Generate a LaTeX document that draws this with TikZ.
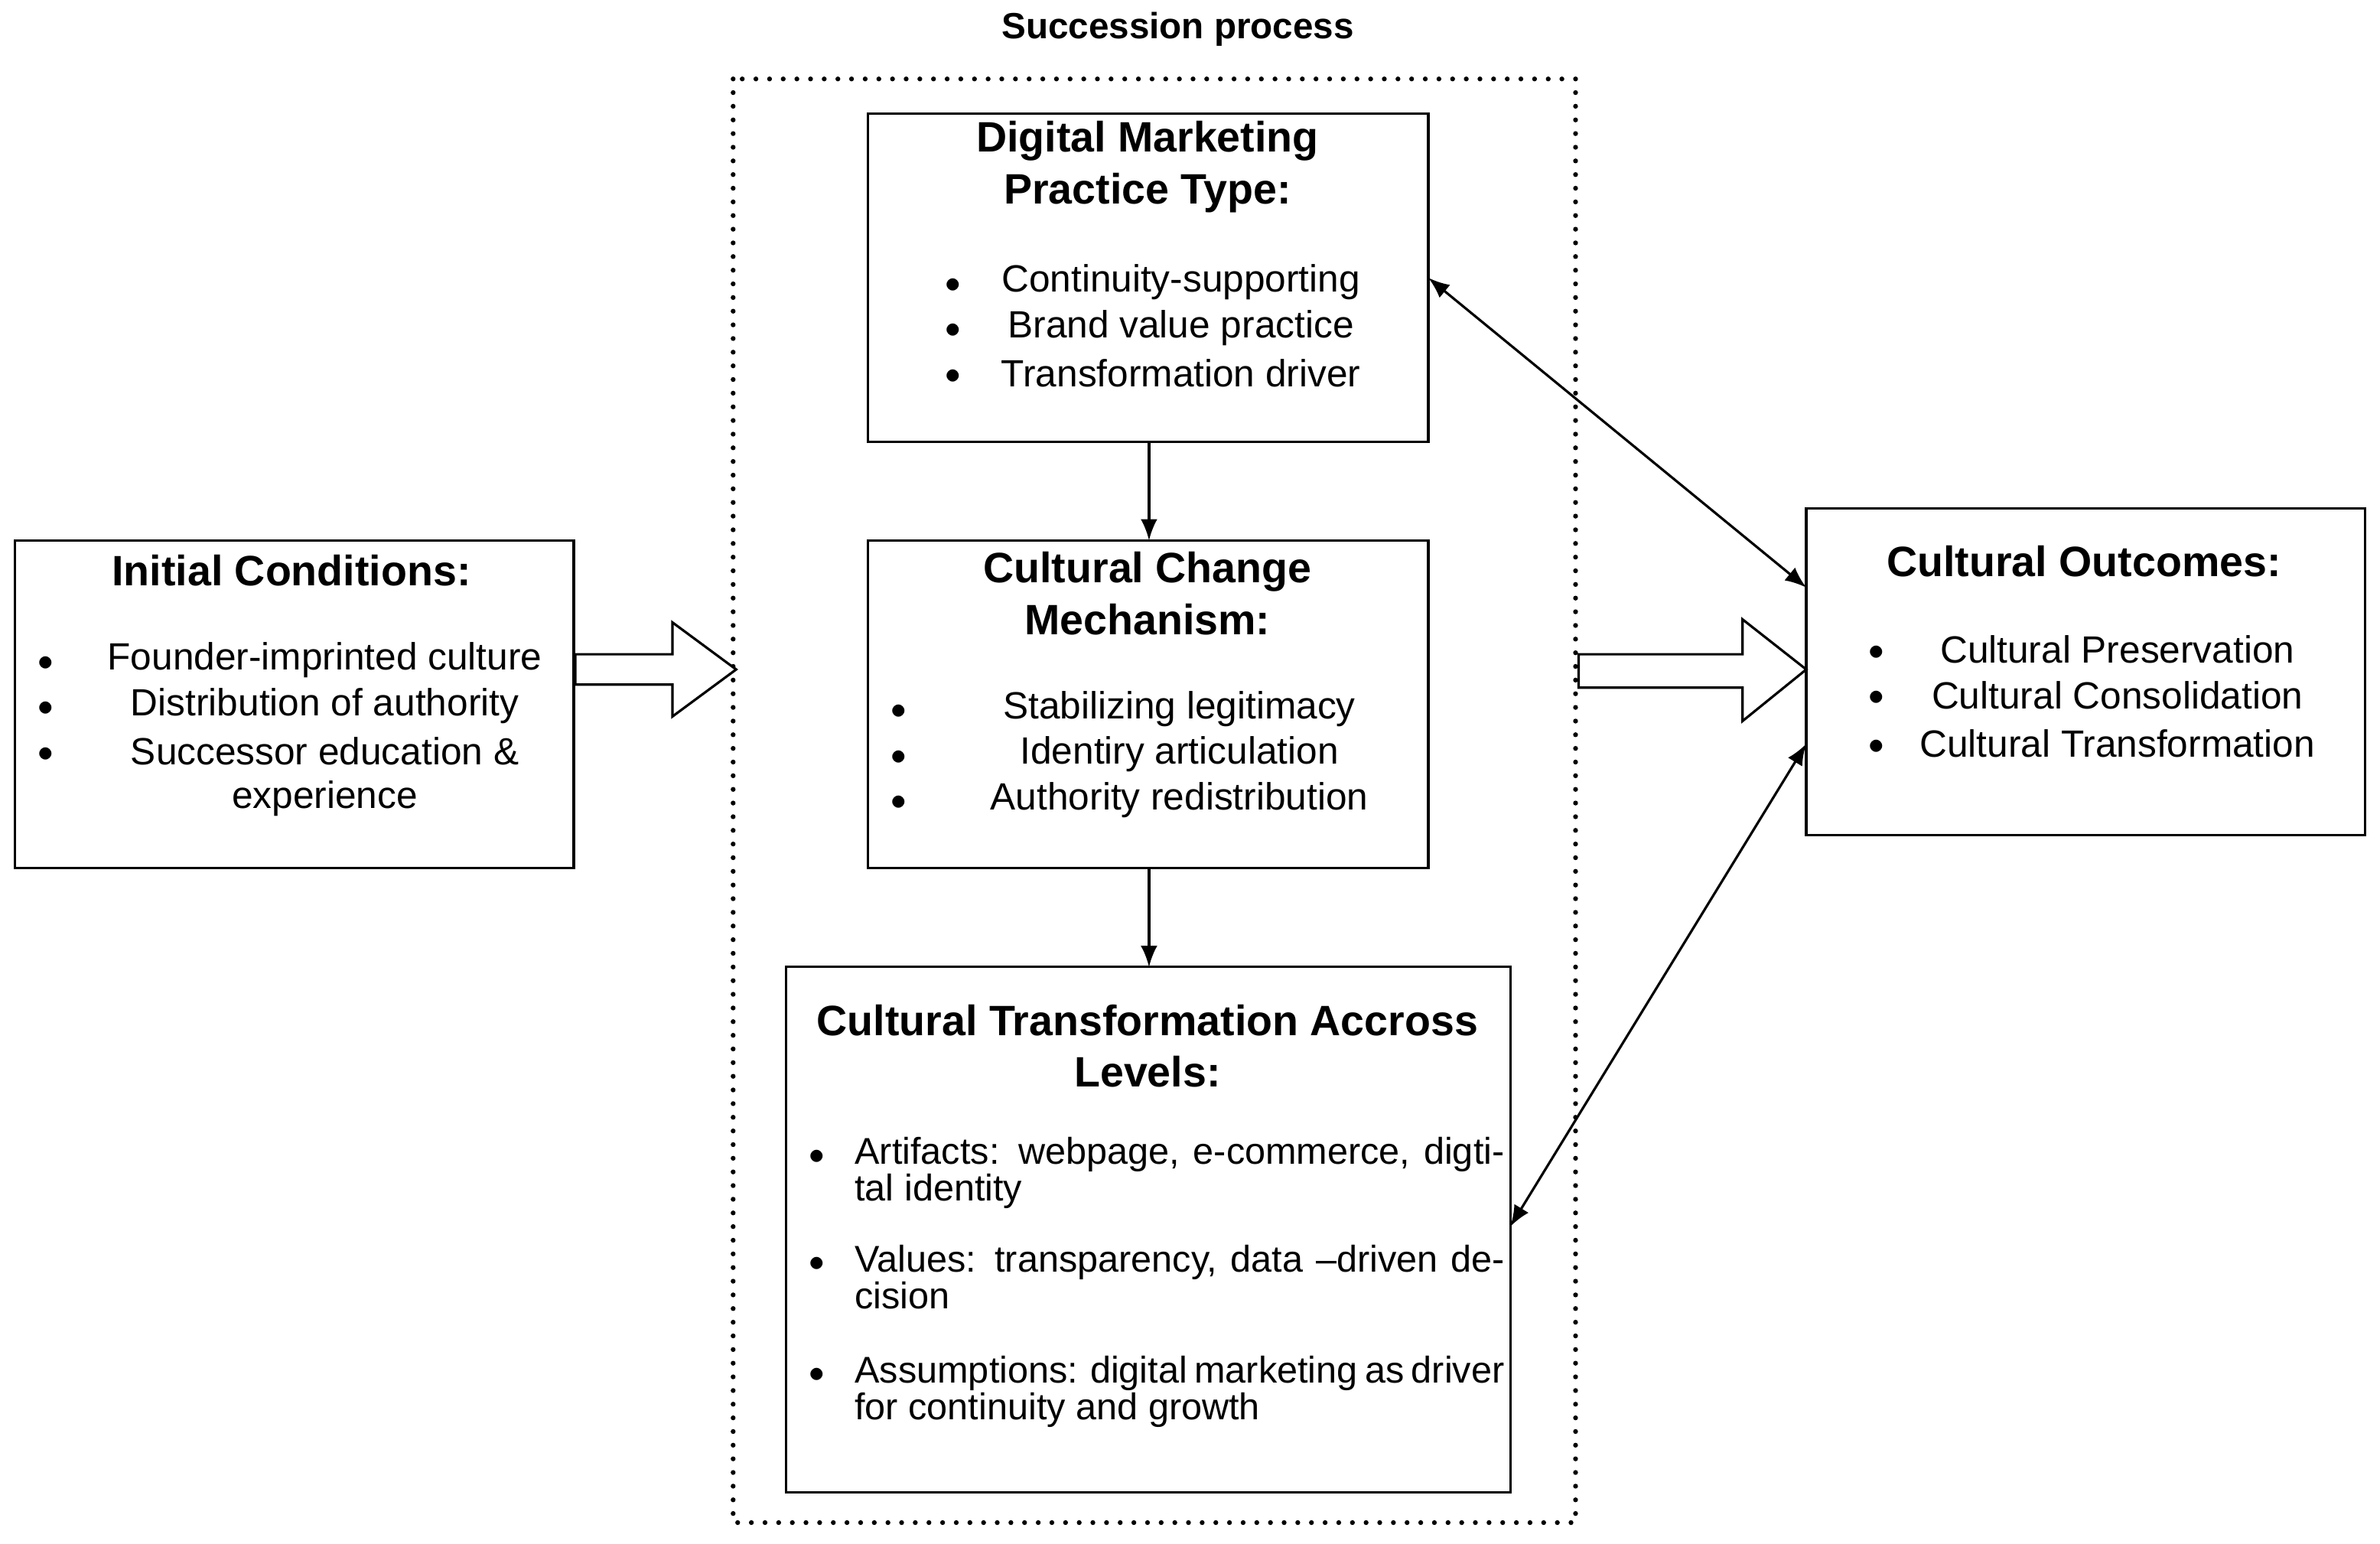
\documentclass[tikz,border=0pt]{standalone}
\usepackage{fontspec}
\setmainfont{Liberation Sans}
\usetikzlibrary{arrows.meta}
\begin{document}
\begin{tikzpicture}[x=1pt,y=-1pt,
 box/.style={draw,line width=1.6pt},
 ttl/.style={font=\fontsize{28}{34}\selectfont\bfseries,align=center},
 itm/.style={font=\fontsize{25}{30}\selectfont,anchor=center},
 bul/.style={font=\fontsize{22}{30}\selectfont},
 lst/.style={font=\fontsize{24.5}{24}\selectfont,text width=428pt,align=justify,anchor=north west,inner sep=0pt},
 tip/.style={Latex[length=14pt,width=11pt]},
 arr/.style={line width=1.6pt,-{Latex[length=14pt,width=11pt]}}]
\useasboundingbox (0,0) rectangle (1568,1017);
\node[font=\fontsize{24}{28}\selectfont\bfseries] (sp) at (776,19) {Succession process};
\draw[line width=3.2pt,line cap=round,dash pattern=on 0pt off 9pt] (483,52) rectangle (1038,1003);
% boxes
\draw[box] (572,75) rectangle (941,291); \coordinate (dmS) at (757,291); \coordinate (dmE) at (941,183);
\draw[box] (572,356) rectangle (941,572); \coordinate (ccN) at (757,356); \coordinate (ccS) at (757,572);
\draw[box] (518,637) rectangle (995,983); \coordinate (ctN) at (757,637); \coordinate (ctE) at (995,808);
\draw[box] (10,356) rectangle (378,572);
\draw[box] (1190,335) rectangle (1558,550); \coordinate (coA) at (1190,387); \coordinate (coB) at (1190,490);
% DM text
\node[ttl] (dmt) at (756,110) {Digital Marketing\\Practice Type:};
\foreach \y/\t [count=\i] in {186/Continuity-supporting,216/Brand value practice,246/Transformation driver}{
 \node[bul] (dmb\i) at (628,\y+2) {$\bullet$};
 \node[itm] (dmi\i) at (778,\y) {\t};}
% CCM text
\node[ttl] (cct) at (756,391) {Cultural Change\\Mechanism:};
\foreach \y/\t [count=\i] in {467/Stabilizing legitimacy,497/Identiry articulation,527/Authority redistribution}{
 \node[bul] (ccb\i) at (592,\y+2) {$\bullet$};
 \node[itm] (cci\i) at (777,\y) {\t};}
% Initial
\node[ttl] (int) at (192,376) {Initial Conditions:};
\foreach \y/\t [count=\i] in {435/Founder-imprinted culture,465/Distribution of authority,495/Successor education \&}{
 \node[bul] (inb\i) at (30,\y+2) {$\bullet$};
 \node[itm] (ini\i) at (214,\y) {\t};}
\node[itm] (ini4) at (214,526) {experience};
% Outcomes
\node[ttl] (cot) at (1373,370) {Cultural Outcomes:};
\foreach \y/\t [count=\i] in {428/Cultural Preservation,458/Cultural Consolidation,490/Cultural Transformation}{
 \node[bul] (cob\i) at (1236,\y+2) {$\bullet$};
 \node[itm] (coi\i) at (1395,\y) {\t};}
% CTAL
\node[ttl] (ctt) at (756,689) {Cultural Transformation Accross\\Levels:};
\foreach \y/\t [count=\i] in {749/{Artifacts: webpage, e-commerce, digtital identity},820/{Values: transparency, data --driven decision},893/{Assumptions: digital marketing as driver for continuity and growth}}{
 \node[bul] (ctb\i) at (538,\y+13) {$\bullet$};
 \node[lst] (cti\i) at (563,\y) {\t};}
% arrows
\draw[arr] (dmS) -- (ccN);
\draw[arr] (ccS) -- (ctN);
\draw[line width=1.6pt,{Latex[length=14pt,width=11pt]}-{Latex[length=14pt,width=11pt]}] (dmE) -- (coA);
\draw[line width=1.6pt,{Latex[length=14pt,width=11pt]}-{Latex[length=14pt,width=11pt]}] (ctE) -- (coB);
\draw[line width=1.6pt,fill=white] (379,431) -- (443,431) -- (443,410) -- (485,441) -- (443,472) -- (443,451) -- (379,451) -- cycle;
\draw[line width=1.6pt,fill=white] (1040,431) -- (1148,431) -- (1148,408) -- (1190,441) -- (1148,475) -- (1148,453) -- (1040,453) -- cycle;
\end{tikzpicture}
\end{document}
